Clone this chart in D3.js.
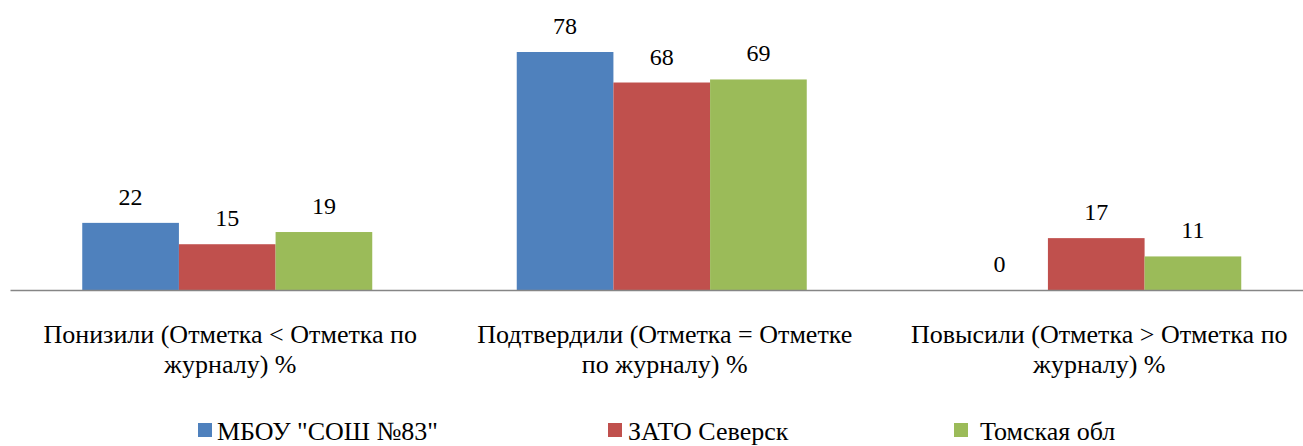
<!DOCTYPE html>
<html><head><meta charset="utf-8">
<script src="https://cdn.jsdelivr.net/npm/d3@7"></script>
<style>html,body{margin:0;padding:0;background:#fff;}svg{display:block;}
svg text{font-family:"Liberation Serif","Times New Roman",Times,"DejaVu Serif",serif;}</style>
</head><body>
<svg id="chart" width="1303" height="446"></svg>
<script>
const categories = ["Понизили", "Подтвердили", "Повысили"];
const categoryLines = [
  ["Понизили (Отметка < Отметка по", "журналу) %"],
  ["Подтвердили (Отметка = Отметке", "по журналу) %"],
  ["Повысили (Отметка > Отметка по", "журналу) %"]
];
const seriesNames = ["МБОУ \"СОШ №83\"", "ЗАТО Северск", "Томская обл"];
const seriesColors = ["#4f81bd", "#c0504d", "#9bbb59"];
const valuesSchool = [22, 78, 0];
const valuesSeversk = [15, 68, 17];
const valuesTomsk = [19, 69, 11];
const seriesValues = [valuesSchool, valuesSeversk, valuesTomsk];

const svg = d3.select("#chart");
const baseY = 290;

const x0 = d3.scaleBand().domain(categories).range([10, 1313.5]).padding(0);
const groupW = 290;
const x1 = d3.scaleBand().domain(d3.range(3)).range([0, groupW]).padding(0);
const y = d3.scaleLinear().domain([0, 78]).range([baseY, 52]);

const g = svg.append("g");
categories.forEach((c, ci) => {
  const gx = x0(c) + x0.bandwidth() / 2 - groupW / 2;
  seriesValues.forEach((vals, si) => {
    const v = vals[ci];
    const bx = gx + x1(si);
    if (v > 0) {
      g.append("rect").attr("x", bx).attr("y", y(v))
        .attr("width", x1.bandwidth()).attr("height", baseY - y(v))
        .attr("fill", seriesColors[si]);
    }
    g.append("text").attr("x", bx + x1.bandwidth() / 2).attr("y", y(v) - 18)
      .attr("text-anchor", "middle")
      .attr("font-size", 24).attr("fill", "#000").text(v);
  });
});

// baseline axis
const axis = d3.axisBottom(x0).tickSize(0).tickFormat("");
const ax = svg.append("g").attr("transform", `translate(0,${baseY})`).call(axis);
ax.select(".domain").attr("stroke", "#868686").attr("stroke-width", 1.5);

// category labels
categories.forEach((c, ci) => {
  const cx = x0(c) + x0.bandwidth() / 2 + 3;
  categoryLines[ci].forEach((line, li) => {
    svg.append("text").attr("x", cx).attr("y", 343 + li * 30)
      .attr("text-anchor", "middle")
      .attr("font-size", 26).attr("fill", "#000").text(line);
  });
});

// legend
const legendX = [198, 608, 954];
const legendTextX = [217, 628, 980];
seriesNames.forEach((n, i) => {
  svg.append("rect").attr("x", legendX[i]).attr("y", 423).attr("width", 14).attr("height", 14)
    .attr("fill", seriesColors[i]);
  svg.append("text").attr("x", legendTextX[i]).attr("y", 440)
    .attr("font-size", 26).attr("fill", "#000").text(n);
});
</script>
</body></html>
